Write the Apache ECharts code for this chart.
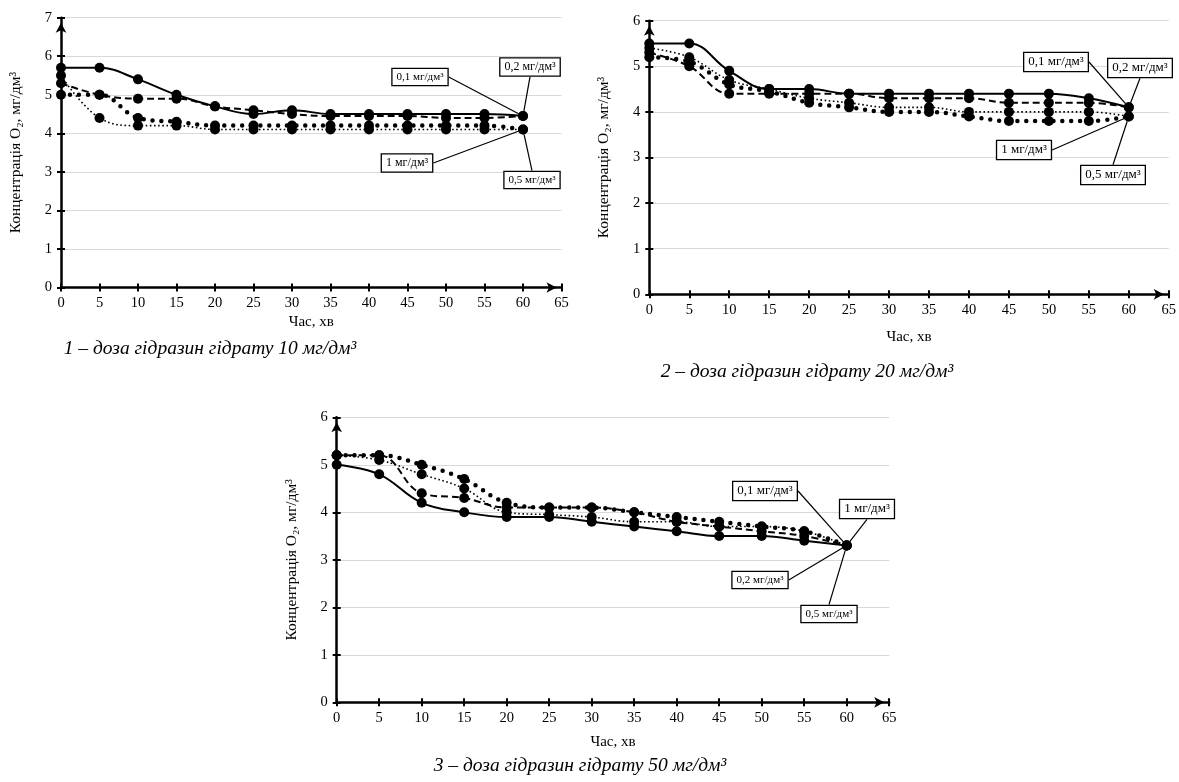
<!DOCTYPE html>
<html>
<head>
<meta charset="utf-8">
<script src="https://cdn.jsdelivr.net/npm/echarts@6/dist/echarts.min.js"></script>
<style>
  html, body { margin: 0; padding: 0; background: #fff; }
  #chart { width: 1179px; height: 782px; }
</style>
</head>
<body>
<div id="chart"></div>
<script>
// Time points, min
const times = [0, 5, 10, 15, 20, 25, 30, 35, 40, 45, 50, 55, 60];

// Dose labels of the test series
const doseNames = ['0,1 мг/дм³', '0,2 мг/дм³', '0,5 мг/дм³', '1 мг/дм³'];

// Panel 1 – hydrazine hydrate 10 mg/dm3, O2 concentration, mg/dm3
const p1_d01 = [5.3, 5.0, 4.9, 4.9, 4.7, 4.6, 4.5, 4.45, 4.45, 4.45, 4.4, 4.4, 4.45];
const p1_d02 = [5.7, 5.7, 5.4, 5.0, 4.7, 4.5, 4.6, 4.5, 4.5, 4.5, 4.5, 4.5, 4.45];
const p1_d05 = [5.0, 5.0, 4.4, 4.3, 4.2, 4.2, 4.2, 4.2, 4.2, 4.2, 4.2, 4.2, 4.1];
const p1_d1  = [5.5, 4.4, 4.2, 4.2, 4.1, 4.1, 4.1, 4.1, 4.1, 4.1, 4.1, 4.1, 4.1];

// Panel 2 – hydrazine hydrate 20 mg/dm3
const p2_d01 = [5.3, 5.0, 4.4, 4.4, 4.4, 4.4, 4.3, 4.3, 4.3, 4.2, 4.2, 4.2, 4.1];
const p2_d02 = [5.5, 5.5, 4.9, 4.5, 4.5, 4.4, 4.4, 4.4, 4.4, 4.4, 4.4, 4.3, 4.1];
const p2_d05 = [5.2, 5.1, 4.6, 4.45, 4.2, 4.1, 4.0, 4.0, 3.9, 3.8, 3.8, 3.8, 3.9];
const p2_d1  = [5.4, 5.2, 4.7, 4.5, 4.3, 4.2, 4.1, 4.1, 4.0, 4.0, 4.0, 4.0, 3.9];

// Panel 3 – hydrazine hydrate 50 mg/dm3
const p3_d01 = [5.2, 5.2, 4.4, 4.3, 4.1, 4.1, 4.1, 4.0, 3.8, 3.7, 3.6, 3.5, 3.3];
const p3_d02 = [5.0, 4.8, 4.2, 4.0, 3.9, 3.9, 3.8, 3.7, 3.6, 3.5, 3.5, 3.4, 3.3];
const p3_d05 = [5.2, 5.2, 5.0, 4.7, 4.2, 4.1, 4.1, 4.0, 3.9, 3.8, 3.7, 3.6, 3.3];
const p3_d1  = [5.2, 5.1, 4.8, 4.5, 4.0, 3.95, 3.9, 3.8, 3.8, 3.7, 3.7, 3.6, 3.3];

// Axis ranges and tick labels
const xTicks = [0, 5, 10, 15, 20, 25, 30, 35, 40, 45, 50, 55, 60, 65];
const yMax = [7, 6, 6];

// Captions and axis titles
const captions = [
  '1 – доза гідразин гідрату 10 мг/дм³',
  '2 – доза гідразин гідрату 20 мг/дм³',
  '3 – доза гідразин гідрату 50 мг/дм³'
];
const yTitle = 'Концентрація O₂, мг/дм³';
const xTitle = 'Час, хв';

const FONT = '"Liberation Serif", "Times New Roman", serif';

// Panel frames
const grids = [
  { left: 61, top: 17.7, width: 500.5, height: 269.8 },
  { left: 649.3, top: 20.7, width: 520, height: 273.6 },
  { left: 336.7, top: 417.3, width: 552.5, height: 285 }
];
const xNameGaps = [27, 35, 32];

// Callout placement for each dose label in each panel (label box centre, font size)
const callouts = [
  { '0,1 мг/дм³': [420, 77, 11], '0,2 мг/дм³': [530, 67, 12], '1 мг/дм³': [407, 163, 12], '0,5 мг/дм³': [532, 180, 11] },
  { '0,1 мг/дм³': [1056, 62, 13], '0,2 мг/дм³': [1140, 68, 13], '1 мг/дм³': [1024, 150, 13], '0,5 мг/дм³': [1113, 175, 13] },
  { '0,1 мг/дм³': [765, 491, 13], '0,2 мг/дм³': [760, 580, 11], '1 мг/дм³': [867, 509, 13], '0,5 мг/дм³': [829, 614, 11] }
];

const panels = [
  [p1_d01, p1_d02, p1_d05, p1_d1],
  [p2_d01, p2_d02, p2_d05, p2_d1],
  [p3_d01, p3_d02, p3_d05, p3_d1]
];

// Line styles per dose: dashed, solid, round dots, fine dots
const lineStyles = [
  { width: 2, type: [7, 4] },
  { width: 2, type: 'solid' },
  { width: 4.5, type: [0, 9], cap: 'round' },
  { width: 1.6, type: [1.6, 2.6] }
];

const xAxes = [], yAxes = [], series = [];
grids.forEach((g, gi) => {
  // main axes
  xAxes.push({
    type: 'value', gridIndex: gi, min: 0, max: 65, interval: 5,
    name: xTitle, nameLocation: 'middle', nameGap: xNameGaps[gi],
    nameTextStyle: { fontFamily: FONT, fontSize: 15, color: '#000' },
    axisLine: { show: true, lineStyle: { color: '#000', width: 2.5 }, symbol: ['none', 'arrow'], symbolSize: [8, 10], symbolOffset: [0, -5] },
    axisTick: { show: true, length: 4, lineStyle: { color: '#000', width: 2 } },
    axisLabel: { fontFamily: FONT, fontSize: 14.5, color: '#000', margin: 8,
      formatter: v => xTicks.includes(v) ? String(v) : '' },
    splitLine: { show: false }
  });
  yAxes.push({
    type: 'value', gridIndex: gi, min: 0, max: yMax[gi], interval: 1,
    name: yTitle, nameLocation: 'middle', nameGap: 37,
    nameTextStyle: { fontFamily: FONT, fontSize: 15.5, color: '#000' },
    axisLine: { show: true, lineStyle: { color: '#000', width: 2.5 }, symbol: ['none', 'arrow'], symbolSize: [8, 10], symbolOffset: [0, -5] },
    axisTick: { show: true, length: 4, lineStyle: { color: '#000', width: 2 } },
    axisLabel: { fontFamily: FONT, fontSize: 14.5, color: '#000', margin: 9 },
    splitLine: { show: true, lineStyle: { color: '#d9d9d9', width: 1.2 } }
  });
  // inner halves of the crossing tick marks
  xAxes.push({
    type: 'value', gridIndex: gi, min: 0, max: 65, interval: 5, position: 'bottom',
    axisLine: { show: false }, axisLabel: { show: false }, splitLine: { show: false },
    axisTick: { show: true, inside: true, length: 4, lineStyle: { color: '#000', width: 2 } }
  });
  yAxes.push({
    type: 'value', gridIndex: gi, min: 0, max: yMax[gi], interval: 1, position: 'left',
    axisLine: { show: false }, axisLabel: { show: false }, splitLine: { show: false },
    axisTick: { show: true, inside: true, length: 4, lineStyle: { color: '#000', width: 2 } }
  });

  panels[gi].forEach((vals, si) => {
    const name = doseNames[si];
    const co = callouts[gi][name];
    series.push({
      type: 'line', name: name,
      xAxisIndex: gi * 2, yAxisIndex: gi * 2,
      smooth: 0.4,
      symbol: 'circle', symbolSize: 10,
      itemStyle: { color: '#000' },
      lineStyle: Object.assign({ color: '#000' }, lineStyles[si]),
      z: 3,
      data: times.map((t, i) => {
        const item = { value: [t, vals[i]] };
        if (i === times.length - 1) {
          item.label = {
            show: true, formatter: name,
            fontFamily: FONT, fontSize: co[2], color: '#000',
            backgroundColor: '#fff', borderColor: '#000', borderWidth: 1.3,
            padding: [3, 4, 2, 4]
          };
        }
        return item;
      }),
      label: { show: false },
      labelLine: { show: true, lineStyle: { color: '#000', width: 1.2 } },
      labelLayout: () => ({ x: co[0], y: co[1], align: 'center', verticalAlign: 'middle' })
    });
  });
});

const titles = [
  { text: captions[0], left: 205, top: 334 },
  { text: captions[1], left: 802, top: 357 },
  { text: captions[2], left: 575, top: 751 }
].map(t => ({
  text: t.text, left: t.left, top: t.top, textAlign: 'center',
  textStyle: { fontFamily: FONT, fontSize: 19.5, fontStyle: 'italic', fontWeight: 'normal', color: '#000' }
}));

const chart = echarts.init(document.getElementById('chart'), null, { renderer: 'canvas' });
chart.setOption({
  backgroundColor: '#fff',
  animation: false,
  title: titles,
  grid: grids,
  xAxis: xAxes,
  yAxis: yAxes,
  series: series
});
</script>
</body>
</html>
